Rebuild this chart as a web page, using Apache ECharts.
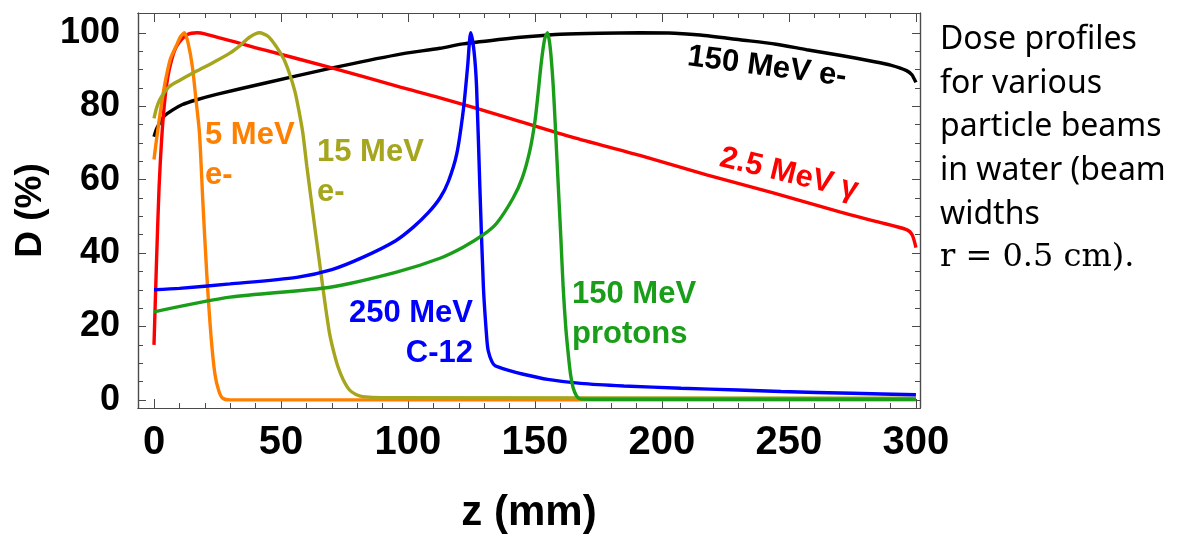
<!DOCTYPE html>
<html>
<head>
<meta charset="utf-8">
<script src="https://cdn.jsdelivr.net/npm/echarts@6/dist/echarts.min.js"></script>
<style>
html, body { margin: 0; padding: 0; background: #fff; }
#main { width: 1178px; height: 536px; }
</style>
</head>
<body>
<div id="main"></div>
<script>
// tick labels
var xMajor = [0, 50, 100, 150, 200, 250, 300];
var yMajor = [0, 20, 40, 60, 80, 100];

// 150 MeV e-
var zBlack = [0, 1, 2.2, 4, 7.4, 11, 16.5, 25, 43, 69.3, 95.5, 112.6, 121.7, 138.8, 148, 160, 175.6, 191.3, 205, 215, 230.7, 245, 257, 270, 283.2, 290, 296.3, 298.5, 300];
var dBlack = [71.7, 73.8, 75.4, 77.3, 79, 80.4, 81.7, 83.3, 86.2, 90.3, 94, 95.8, 97, 98.4, 99, 99.6, 99.9, 100, 99.9, 99.4, 98.1, 96.9, 95.4, 93.9, 92.2, 91.2, 89.7, 88.5, 86.5];

// 2.5 MeV gamma
var zRed = [0, 1, 2, 3, 4, 5, 6, 8, 10, 13, 17, 20, 43, 69.3, 97, 112.6, 138.8, 164.6, 191.3, 217.6, 243.8, 270, 285, 296.3, 298.5, 300];
var dRed = [15, 38, 58, 71, 80, 86, 90, 95, 97.5, 99.5, 100, 99.7, 95.4, 90.6, 85.2, 82.3, 77, 71.6, 66.6, 61.3, 56.4, 51.2, 48.5, 46.4, 45, 41.5];

// 5 MeV e-
var zOrange = [0, 1, 2.2, 3.5, 4.8, 6.5, 8.8, 10.5, 12, 13.5, 15.1, 16.5, 17.9, 19.2, 20.8, 22.5, 24, 25.5, 27, 30, 300];
var dOrange = [65.5, 71, 77, 83, 88, 93, 96.5, 99, 100, 97, 90.8, 82, 72.7, 54.5, 34, 17, 7, 2.5, 0.5, 0, 0];

// 15 MeV e-
var zOlive = [0, 1, 2.2, 4, 6.1, 10, 16.6, 23, 29.7, 34, 37.6, 41.5, 45, 48.1, 51, 53.3, 55.5, 57, 58.6, 60.2, 61.9, 63.6, 65.4, 67.2, 69.1, 70.8, 72.4, 74.5, 77, 79.5, 82.2, 90, 300];
var dOlive = [76.7, 79.5, 81.7, 83.7, 85.4, 87, 89.5, 91.8, 94.4, 96.6, 98.8, 100, 99, 96.3, 93, 89, 84, 79, 72.7, 63.5, 54.5, 45.5, 36.3, 27, 18.2, 13, 9.1, 5.5, 2.7, 1.5, 0.9, 0.6, 0.5];

// 250 MeV C-12
var zBlue = [0, 10, 29.9, 56.2, 70, 82.4, 95, 102, 108, 112.6, 115.9, 119.2, 121.8, 123.5, 124.7, 126, 127, 128.3, 129.7, 131, 131.6, 133, 134.3, 140, 145.4, 155, 168, 185, 207.5, 230, 246.9, 275, 300];
var dBlue = [30, 30.4, 31.6, 33.4, 35.5, 38.9, 43.3, 47, 51, 55, 59.5, 67, 79, 91, 100, 95, 85.4, 58, 30.7, 17, 13.4, 10.5, 9.3, 8, 7, 5.6, 4.5, 3.8, 3.2, 2.7, 2.3, 1.8, 1.4];

// 150 MeV protons
var zGreen = [0, 29.9, 69.3, 95.5, 112.6, 121.7, 129.7, 135, 141.4, 145, 148, 150, 151.3, 152.5, 153.8, 154.9, 156, 157.2, 158.2, 159.2, 160.2, 161.1, 162.1, 163.1, 164, 165, 166.3, 167.7, 172, 300];
var dGreen = [24, 28, 30.7, 34.8, 38.6, 41.6, 45, 48.2, 55, 60.5, 68, 76, 84, 92, 98.3, 100, 96, 85.4, 72, 58, 44, 30.7, 20, 12.5, 7, 3.4, 1.2, 0.3, 0.2, 0.2];

var noteLines = ['Dose profiles', 'for various', 'particle beams', 'in water (beam', 'widths'];
var noteMath = 'r = 0.5 cm).';

function pairs(zs, ds) {
    var out = [];
    for (var i = 0; i < zs.length; i++) out.push([zs[i], ds[i]]);
    return out;
}
function range(a, b, step, skip) {
    var out = [];
    for (var v = a; v <= b; v += step) if (skip.indexOf(v) < 0) out.push(v);
    return out;
}
var xMinor = range(10, 300, 10, xMajor);
var yMinor = range(5, 100, 5, yMajor);

var frameColor = '#4a4a4a';
var fam = '"Liberation Sans", Arial, sans-serif';

function xAx(pos, ticks, len, labels) {
    return {
        type: 'value', position: pos, min: -6.3, max: 301.6,
        axisLine: { show: true, onZero: false, lineStyle: { color: frameColor, width: 1.2 } },
        axisTick: { show: true, inside: true, length: len, customValues: ticks, lineStyle: { color: frameColor } },
        axisLabel: labels ? { show: true, customValues: ticks, margin: 15, color: '#000', fontSize: 40, fontFamily: fam, fontWeight: 'bold' } : { show: false },
        splitLine: { show: false }
    };
}
function yAx(pos, ticks, len, labels) {
    return {
        type: 'value', position: pos, min: -2.2, max: 105.4,
        axisLine: { show: true, onZero: false, lineStyle: { color: frameColor, width: 1.2 } },
        axisTick: { show: true, inside: true, length: len, customValues: ticks, lineStyle: { color: frameColor } },
        axisLabel: labels ? { show: true, customValues: ticks, margin: 18, color: '#000', fontSize: 36, fontFamily: fam, fontWeight: 'bold' } : { show: false },
        splitLine: { show: false }
    };
}

var xAxes = [xAx('bottom', xMajor, 9, true), xAx('bottom', xMinor, 5, false), xAx('top', xMajor, 9, false), xAx('top', xMinor, 5, false)];
xAxes[0].name = 'z (mm)';
xAxes[0].nameLocation = 'middle';
xAxes[0].nameGap = 84;
xAxes[0].nameTextStyle = { fontSize: 42, fontWeight: 'bold', fontFamily: fam, color: '#000' };
var yAxes = [yAx('left', yMajor, 8, true), yAx('left', yMinor, 5, false), yAx('right', yMajor, 8, false), yAx('right', yMinor, 5, false)];
yAxes[0].name = 'D (%)';
yAxes[0].nameLocation = 'middle';
yAxes[0].nameGap = 86;
yAxes[0].nameTextStyle = { fontSize: 37, fontWeight: 'bold', fontFamily: fam, color: '#000' };

function line(name, zs, ds, color) {
    return {
        name: name, type: 'line', data: pairs(zs, ds), showSymbol: false,
        smooth: 0.25, silent: true,
        lineStyle: { color: color, width: 3.4 }
    };
}

function note(text, x, y, color, align, rot) {
    return {
        type: 'text', x: x, y: y, rotation: rot || 0, silent: true,
        style: {
            text: text, fill: color, align: align || 'left', verticalAlign: 'middle',
            font: 'bold 31px "Liberation Sans", Arial, sans-serif', lineHeight: 40
        }
    };
}

var graphics = [
    note('5 MeV\ne-', 205, 155, '#ff8000'),
    note('15 MeV\ne-', 317, 172, '#a5a51e'),
    note('250 MeV\nC-12', 473, 333, '#0000ff', 'right'),
    note('150 MeV\nprotons', 572, 314, '#1a9e1a'),
    note('150 MeV e-', 767, 67, '#000', 'center', -0.131),
    note('2.5 MeV \u03b3', 789, 174, '#ff0000', 'center', -0.238)
];
noteLines.forEach(function (t, i) {
    graphics.push({
        type: 'text', x: 940, y: 40 + i * 43.6, silent: true,
        style: { text: t, fill: '#000', align: 'left', verticalAlign: 'middle', font: '32px "Noto Sans", sans-serif' }
    });
});
graphics.push({
    type: 'text', x: 940, y: 258, silent: true,
    style: { text: noteMath, fill: '#000', align: 'left', verticalAlign: 'middle', font: '32px "DejaVu Serif", serif' }
});

var myChart = echarts.init(document.getElementById('main'), null, { renderer: 'canvas' });
var option = {
    animation: false,
    backgroundColor: '#fff',
    grid: { left: 138, right: 258, top: 13, bottom: 128, containLabel: false, outerBoundsMode: 'none' },
    xAxis: xAxes,
    yAxis: yAxes,
    series: [
        line('150 MeV e-', zBlack, dBlack, '#000000'),
        line('2.5 MeV gamma', zRed, dRed, '#ff0000'),
        line('5 MeV e-', zOrange, dOrange, '#ff8000'),
        line('15 MeV e-', zOlive, dOlive, '#a5a51e'),
        line('250 MeV C-12', zBlue, dBlue, '#0000ff'),
        line('150 MeV protons', zGreen, dGreen, '#1a9e1a')
    ],
    graphic: graphics
};
myChart.setOption(option);
window.onresize = function () { myChart.resize(); };
</script>
</body>
</html>
